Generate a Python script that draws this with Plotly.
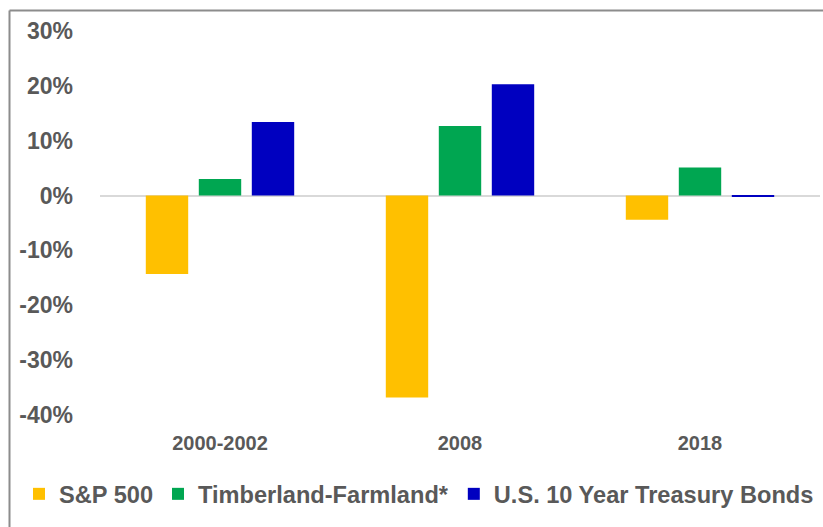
import plotly.graph_objects as go

categories = ["2000-2002", "2008", "2018"]
sp500 = [-14.3, -36.8, -4.4]
timber_farm = [3.0, 12.7, 5.1]
treasury = [13.4, 20.3, -0.2]
series_names = ["S&P 500", "Timberland-Farmland*", "U.S. 10 Year Treasury Bonds"]
colors = ["#FFC000", "#00A651", "#0000C0"]
y_ticks = [-40, -30, -20, -10, 0, 10, 20, 30]
y_tick_labels = ["-40%", "-30%", "-20%", "-10%", "0%", "10%", "20%", "30%"]

FONT = "Liberation Sans, Arial, sans-serif"
GRAY = "#595959"

fig = go.Figure()
for name, vals, col in zip(series_names, [sp500, timber_farm, treasury], colors):
    fig.add_trace(go.Bar(x=categories, y=vals, name=name, marker=dict(color=col, line=dict(width=0))))

W, H = 823, 527
L, T = 100, 31
R = W - 820
B = H - 415
pw, ph = W - L - R, H - T - B

def px_x(x):
    return (x - L) / pw

def px_y(y):
    return (T + ph - y) / ph

fig.update_layout(
    width=W, height=H,
    margin=dict(l=L, r=R, t=T, b=B, autoexpand=False),
    paper_bgcolor="white", plot_bgcolor="white",
    barmode="group", bargap=0.3375, bargroupgap=0.2,
    font=dict(family=FONT, color=GRAY),
    showlegend=True,
    legend=dict(orientation="h", x=px_x(19), xanchor="left", y=px_y(494), yanchor="middle",
                font=dict(size=23.6, family=FONT, color=GRAY, weight="bold"), traceorder="normal",
                bgcolor="rgba(0,0,0,0)"),
    xaxis=dict(showline=False, ticks="", showgrid=False, range=[-0.5, 2.5], automargin=False,
               tickfont=dict(size=20, family=FONT, color=GRAY, weight="bold"), ticklabelstandoff=14),
    yaxis=dict(range=[-40, 30], tickmode="array", tickvals=y_ticks, ticktext=y_tick_labels,
               showgrid=False, showline=False, ticks="", automargin=False,
               zeroline=True, zerolinecolor="#D9D9D9", zerolinewidth=2,
               tickfont=dict(size=23, family=FONT, color=GRAY, weight="bold"), ticklabelstandoff=26),
    shapes=[
        dict(type="line", xref="paper", yref="paper", x0=px_x(9.5), x1=px_x(9.5),
             y0=px_y(527), y1=px_y(10.5), line=dict(color="#8C8C8C", width=2)),
        dict(type="line", xref="paper", yref="paper", x0=px_x(9.5), x1=px_x(823),
             y0=px_y(10.5), y1=px_y(10.5), line=dict(color="#8C8C8C", width=2)),
    ],
)

fig.write_html("out.html", config={"displayModeBar": False},
               post_script="document.body.style.margin='0';document.body.style.overflow='hidden';")
